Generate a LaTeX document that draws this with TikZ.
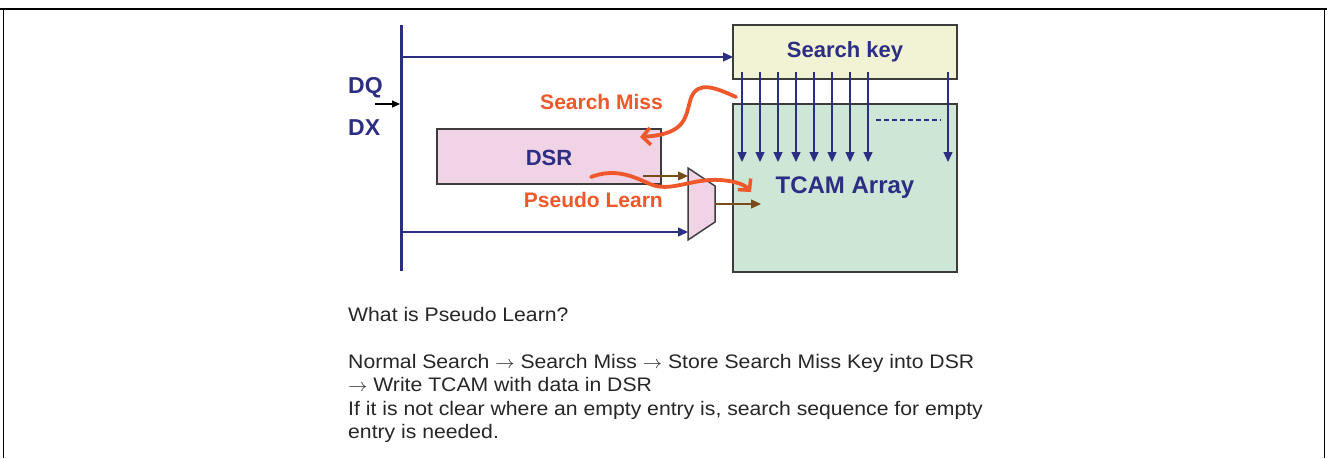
\documentclass[tikz,border=0pt]{standalone}
\usepackage{fontspec}
\setmainfont{Liberation Sans}
\usetikzlibrary{arrows.meta}
\definecolor{navy}{RGB}{44,46,131}
\definecolor{orng}{RGB}{239,88,42}
\definecolor{brwn}{RGB}{120,76,24}
\definecolor{keyfill}{RGB}{242,242,212}
\definecolor{tcamfill}{RGB}{205,230,213}
\definecolor{dsrfill}{RGB}{241,211,230}
\definecolor{edge}{RGB}{60,60,60}
\tikzset{
  boxstyle/.style={draw=edge, line width=1.5pt, inner sep=0pt, outer sep=0pt},
  blabel/.style={font=\fontsize{22}{24}\selectfont\bfseries, text=navy, inner sep=0pt},
  olabel/.style={font=\fontsize{21}{24}\selectfont\bfseries, text=orng, inner sep=0pt},
  bluearrow/.style={draw=navy, line width=1.3pt, -{Triangle[length=10pt,width=9pt]}},
  brownarrow/.style={draw=brwn, line width=1.3pt, -{Triangle[length=10pt,width=9pt]}},
  curvearrow/.style={draw=orng, line width=3.8pt, line cap=round, -{Straight Barb[length=8pt,width=17pt,line width=3.5pt]}},
  bodytext/.style={font=\fontsize{19}{23}\selectfont, text=black!85, inner sep=0pt, anchor=base west},
}
\newcommand{\wide}[1]{\scalebox{1.115}[1.03]{#1}}
\begin{document}
\begin{tikzpicture}[x=1pt,y=-1pt]
\useasboundingbox (0,0) rectangle (1327,458);
% frame
\draw[black, line width=2.5pt] (0,9) -- (1327,9);
\draw[black, line width=1pt] (3,9) -- (3,458);
\draw[black, line width=1pt] (1324.5,9) -- (1324.5,458);

% bus
\coordinate (busT) at (401,25);
\coordinate (busB) at (401,271);
\draw[navy, line width=3pt] (busT) -- (busB);

% boxes
\node[boxstyle, fill=keyfill, minimum width=224pt, minimum height=54pt, anchor=north west] (key) at (733,25) {};
\node[blabel] (keylbl) at (845,52) {Search key};
\node[boxstyle, fill=tcamfill, minimum width=224pt, minimum height=168pt, anchor=north west] (tcam) at (733,104) {};
\node[blabel, font=\fontsize{24}{26}\selectfont\bfseries] (tcamlbl) at (845,188) {TCAM Array};
\node[boxstyle, fill=dsrfill, minimum width=224pt, minimum height=55pt, anchor=north west] (dsr) at (437,129) {};
\node[blabel] (dsrlbl) at (549,158) {DSR};

% mux
\coordinate (m1) at (688,168);
\coordinate (m2) at (715,186);
\coordinate (m3) at (715,222);
\coordinate (m4) at (688,240);
\draw[fill=dsrfill, draw=edge, line width=1.5pt, line join=miter] (m1) -- (m2) -- (m3) -- (m4) -- cycle;

% DQ / DX
\node[blabel, font=\fontsize{23}{25}\selectfont\bfseries, anchor=west] (dq) at (348,88) {DQ};
\node[blabel, font=\fontsize{23}{25}\selectfont\bfseries, anchor=west] (dx) at (348,128) {DX};
\coordinate (inS) at (375,104);
\coordinate (inE) at (400,104);
\draw[black, line width=1.2pt, -{Triangle[length=8pt,width=7pt]}] (inS) -- (inE);

% blue arrows from bus
\draw[bluearrow] (401,57) -- (key.west |- 0,57);
\coordinate (muxin) at (688,232);
\draw[bluearrow] (401,232) -- (muxin);

% key -> tcam arrows
\foreach \x in {742,760,778,796,814,832,850,868,948}{
  \draw[bluearrow] (\x,72) -- (\x,162);
}
\draw[navy, line width=1.3pt, dash pattern=on 5pt off 3pt] (876,120) -- (941,120);

% brown arrows
\coordinate (dsrout) at (643,176);
\coordinate (muxinB) at (688,176);
\draw[brownarrow] (dsrout) -- (muxinB);
\coordinate (muxout) at (715,204);
\coordinate (tcamin) at (761,204);
\draw[brownarrow] (muxout) -- (tcamin);

% orange curves
\coordinate (smS) at (736,97);
\coordinate (smE) at (640,137);
\draw[curvearrow] (smS) .. controls (716,88) and (698,80) .. (691,98) .. controls (685,116) and (688,134) .. (smE);
\coordinate (plS) at (591,177);
\coordinate (plE) at (751,192);
\draw[curvearrow] (plS) .. controls (615,168) and (632,176) .. (650,184) .. controls (670,193) and (692,178) .. (720,180) .. controls (736,181) and (745,185) .. (plE);

\node[olabel, anchor=east] (smlbl) at (663,102) {Search Miss};
\node[olabel, anchor=east] (pllbl) at (663,200) {Pseudo Learn};

% body text
\node[bodytext] (t1) at (348,321) {\wide{What is Pseudo Learn?}};
\node[bodytext] (t2) at (348,368) {\wide{Normal Search $\rightarrow$ Search Miss $\rightarrow$ Store Search Miss Key into DSR}};
\node[bodytext] (t3) at (348,391.5) {\wide{$\rightarrow$ Write TCAM with data in DSR}};
\node[bodytext] (t4) at (348,415) {\wide{If it is not clear where an empty entry is, search sequence for empty}};
\node[bodytext] (t5) at (348,438.5) {\wide{entry is needed.}};
\end{tikzpicture}
\end{document}
